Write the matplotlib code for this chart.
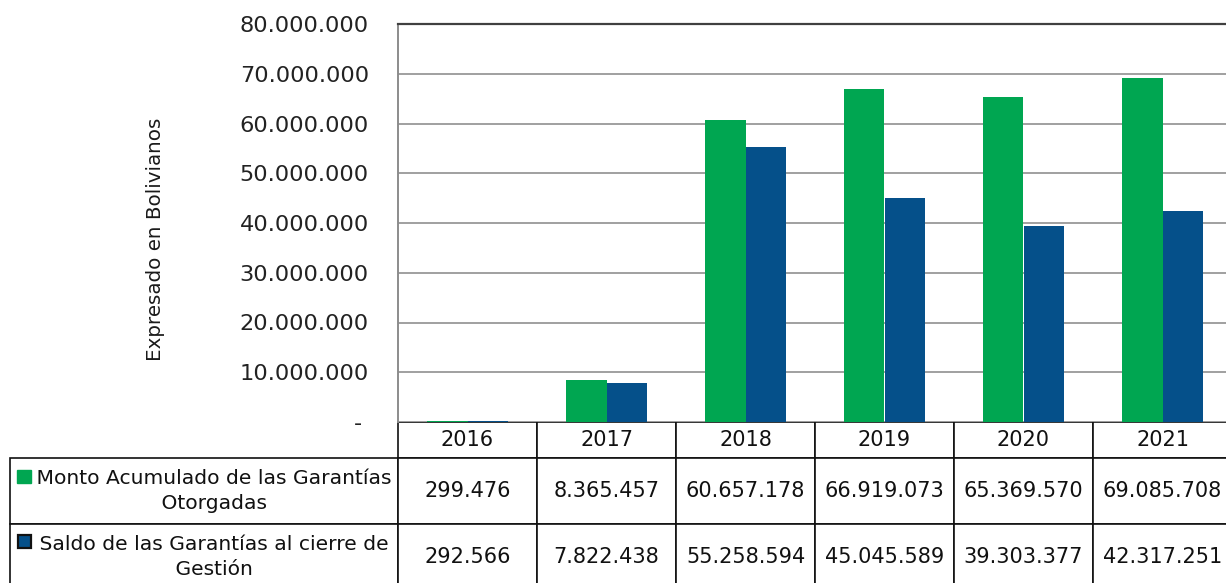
import matplotlib
matplotlib.use("Agg")
import numpy as np
from matplotlib import pyplot as plt
from matplotlib.patches import Rectangle
from matplotlib.ticker import FuncFormatter, MultipleLocator

# Data
years = ["2016", "2017", "2018", "2019", "2020", "2021"]
monto_otorgado = [299476, 8365457, 60657178, 66919073, 65369570, 69085708]
saldo_cierre = [292566, 7822438, 55258594, 45045589, 39303377, 42317251]
series_labels = [
    "Monto Acumulado de las Garantías\nOtorgadas",
    "Saldo de las Garantías al cierre de\nGestión",
]

GREEN = "#00A651"
BLUE = "#05508A"

plt.rcParams["font.family"] = ["DejaVu Sans"]

W, H = 1226, 583
fig = plt.figure(figsize=(W / 100, H / 100), dpi=100)

# axes frame in pixel units of the reference
left_px, right_px, top_px, bottom_px = 398, 1232, 24, 422
ax_w, ax_h = right_px - left_px, bottom_px - top_px
ax = fig.add_axes([left_px / W, 1 - bottom_px / H, ax_w / W, ax_h / H])

x = np.arange(len(years))
bw = 0.288
ax.bar(x - bw / 2, monto_otorgado, bw, color=GREEN, zorder=3)
ax.bar(x + bw / 2, saldo_cierre, bw, color=BLUE, zorder=3)

ax.set_xlim(-0.5, len(years) - 0.5)
ax.set_ylim(0, 80_000_000)
ax.yaxis.set_major_locator(MultipleLocator(10_000_000))


def fmt(v, pos):
    if v == 0:
        return "- "
    return f"{int(v):,}".replace(",", ".")


ax.yaxis.set_major_formatter(FuncFormatter(fmt))
ax.tick_params(axis="y", length=0, labelsize=16.2, pad=21, labelcolor="#222222")
ax.set_xticks([])
ax.grid(axis="y", color="#a0a0a0", linewidth=1.4, zorder=0)
ax.spines["right"].set_visible(False)
ax.spines["bottom"].set_visible(False)
ax.spines["left"].set_color("#8c8c8c")
ax.spines["left"].set_linewidth(1.4)
ax.spines["top"].set_color("#404040")
ax.spines["top"].set_linewidth(1.6)

ax.set_ylabel("Expresado en Bolivianos", fontsize=14.3, color="#1a1a1a")
ax.yaxis.set_label_coords((165 - left_px) / ax_w, (bottom_px - 239) / ax_h)

# data table under the axes
cell_text = [
    [f"{v:,}".replace(",", ".") for v in monto_otorgado],
    [f"{v:,}".replace(",", ".") for v in saldo_cierre],
]
row_labels = ["\n".join("   " + ln for ln in s.split("\n")) for s in series_labels]

head_h, row_h = 36 / ax_h, 66 / ax_h
tbl_h = head_h + 2 * row_h

tbl = ax.table(cellText=cell_text, rowLabels=row_labels, colLabels=years,
               cellLoc="center", rowLoc="center", colLoc="center",
               bbox=[0, -tbl_h, 1, tbl_h])
tbl._autoColumns = []  # keep the fixed width of the row label column
tbl.auto_set_font_size(False)
tbl.set_fontsize(15)
for (r, c), cell in tbl.get_celld().items():
    cell.set_width((left_px - 10) / ax_w if c == -1 else 1 / len(years))
    cell.set_height(head_h if r == 0 else row_h)
    cell.set_edgecolor("#111111")
    cell.set_linewidth(1.2)
    cell.get_text().set_color("#111111")
    if c == -1:
        cell.get_text().set_linespacing(1.4)
        cell.get_text().set_fontsize(14.6)

# legend keys inside the row label cells
fig.add_artist(Rectangle((17 / W, 1 - 483 / H), 14 / W, 13 / H, transform=fig.transFigure,
                         facecolor=GREEN, edgecolor=GREEN))
fig.add_artist(Rectangle((17.5 / W, 1 - 547.5 / H), 13.5 / W, 13 / H, transform=fig.transFigure,
                         facecolor=BLUE, edgecolor="#111111", linewidth=1.6))

fig.savefig("out.png", dpi=100)
